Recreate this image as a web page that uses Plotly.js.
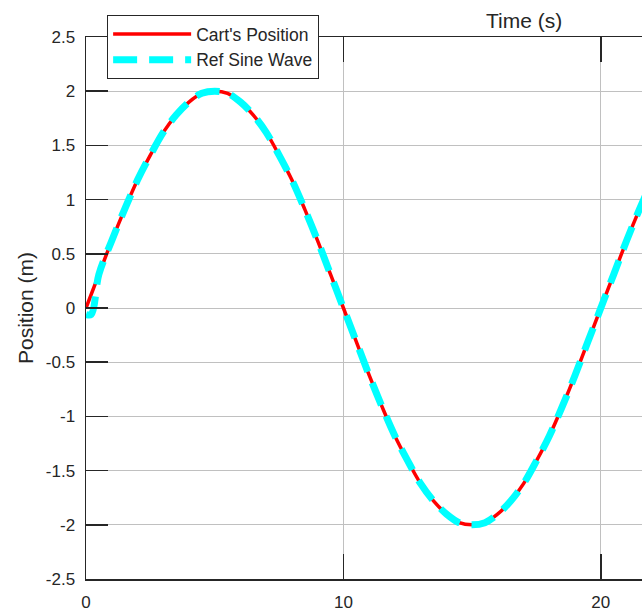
<!DOCTYPE html>
<html>
<head>
<meta charset="utf-8">
<script src="https://cdn.plot.ly/plotly-3.0.1.min.js"></script>
<style>
html,body{margin:0;padding:0;overflow:hidden;background:#fff;}
#chart{width:642px;height:613px;}
</style>
</head>
<body>
<div id="chart"></div>
<script>
// Time samples (s)
const timeCart = [0,0.5,1,1.5,2,2.5,3,3.5,4,4.5,5,5.5,6,6.5,7,7.5,8,8.5,9,9.5,10,10.5,11,11.5,12,12.5,13,13.5,14,14.5,15,15.5,16,16.5,17,17.5,18,18.5,19,19.5,20,20.5,21,21.5,22];
// Cart's position (m)
const cartPosition = [0,0.31,0.62,0.91,1.18,1.41,1.62,1.78,1.90,1.98,2.00,1.98,1.90,1.78,1.62,1.41,1.18,0.91,0.62,0.31,0,-0.31,-0.62,-0.91,-1.18,-1.41,-1.62,-1.78,-1.90,-1.98,-2.00,-1.98,-1.90,-1.78,-1.62,-1.41,-1.18,-0.91,-0.62,-0.31,0,0.31,0.62,0.91,1.18];
// Reference sine wave (m)
const timeRef = [0,0.2,0.5,1,1.5,2,2.5,3,3.5,4,4.5,5,5.5,6,6.5,7,7.5,8,8.5,9,9.5,10,10.5,11,11.5,12,12.5,13,13.5,14,14.5,15,15.5,16,16.5,17,17.5,18,18.5,19,19.5,20,20.5,21,21.5,22];
const refSine = [-0.06,-0.06,0.31,0.62,0.91,1.18,1.41,1.62,1.78,1.90,1.98,2.00,1.98,1.90,1.78,1.62,1.41,1.18,0.91,0.62,0.31,0,-0.31,-0.62,-0.91,-1.18,-1.41,-1.62,-1.78,-1.90,-1.98,-2.00,-1.98,-1.90,-1.78,-1.62,-1.41,-1.18,-0.91,-0.62,-0.31,0,0.31,0.62,0.91,1.18];
const seriesNames = ["Cart's Position", "Ref Sine Wave"];
const xTicks = [0,10,20];
const yTicks = [-2.5,-2,-1.5,-1,-0.5,0,0.5,1,1.5,2,2.5];
const yTickText = ['-2.5','-2','-1.5','-1','-0.5','0','0.5','1','1.5','2','2.5'];

const traces = [
  {x: timeCart, y: cartPosition, name: seriesNames[0], mode: 'lines',
   line: {color: '#ff0000', width: 3.5, shape: 'spline'}},
  {x: timeRef, y: refSine, name: seriesNames[1], mode: 'lines',
   line: {color: '#00ffff', width: 7, dash: '24px,12px', shape: 'spline'}}
];

const axisColor = '#262626';
const layout = {
  width: 642, height: 613,
  margin: {l: 86, r: 0, t: 37, b: 34, pad: 0},
  paper_bgcolor: '#ffffff', plot_bgcolor: '#ffffff',
  font: {family: 'Liberation Sans, Arial, sans-serif', color: axisColor, size: 17},
  showlegend: true,
  legend: {x: 0.038, y: 1 + (37-15)/542, xanchor: 'left', yanchor: 'top',
    bgcolor: '#ffffff', bordercolor: '#262626', borderwidth: 1,
    font: {size: 17.5, color: '#262626'}, itemwidth: 78, tracegroupgap: 0},
  xaxis: {range: [0, 21.6], tickvals: xTicks, ticktext: xTicks.map(String),
    showgrid: true, gridcolor: '#c0c0c0', gridwidth: 1,
    zeroline: false, showline: true, linecolor: axisColor, linewidth: 1.5,
    mirror: 'ticks', ticks: 'inside', ticklen: 25, tickwidth: 1.5, tickcolor: axisColor,
    ticklabelstandoff: 7, tickfont: {size: 17, color: axisColor}},
  yaxis: {range: [-2.5, 2.5], tickvals: yTicks, ticktext: yTickText,
    showgrid: true, gridcolor: '#c0c0c0', gridwidth: 1,
    zeroline: false, showline: true, linecolor: axisColor, linewidth: 1.5,
    ticks: 'inside', ticklen: 22, tickwidth: 1.5, tickcolor: axisColor,
    ticklabelstandoff: 6, tickfont: {size: 17, color: axisColor},
    title: {text: 'Position (m)', font: {size: 21, color: axisColor}, standoff: 6}},
  annotations: [
    {text: 'Time (s)', xref: 'paper', yref: 'paper', x: (524-86)/556, y: 1 + (37-20)/542,
     xanchor: 'center', yanchor: 'middle', showarrow: false, font: {size: 21, color: axisColor}}
  ]
};

Plotly.newPlot('chart', traces, layout, {displayModeBar: false, staticPlot: true});
</script>
</body>
</html>
